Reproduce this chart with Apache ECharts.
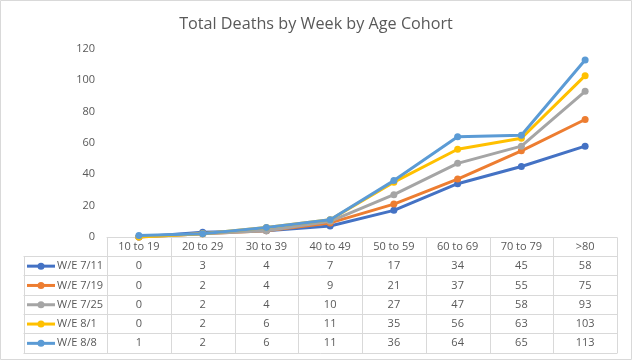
<!DOCTYPE html>
<html><head><meta charset="utf-8">
<script src="https://cdn.jsdelivr.net/npm/echarts@6/dist/echarts.min.js"></script>
<style>html,body{margin:0;padding:0;background:#fff}#c{width:632px;height:360px}</style>
</head><body><div id="c"></div>
<script>
const categories = ['10 to 19','20 to 29','30 to 39','40 to 49','50 to 59','60 to 69','70 to 79','>80'];
const seriesNames = ['W/E 7/11','W/E 7/19','W/E 7/25','W/E 8/1','W/E 8/8'];
const we0711 = [0,3,4,7,17,34,45,58];
const we0719 = [0,2,4,9,21,37,55,75];
const we0725 = [0,2,4,10,27,47,58,93];
const we0801 = [0,2,6,11,35,56,63,103];
const we0808 = [1,2,6,11,36,64,65,113];
const colors = ['#4472C4','#ED7D31','#A5A5A5','#FFC000','#5B9BD5'];
const allData = [we0711, we0719, we0725, we0801, we0808];
const FONT = 'Open Sans';
const TXT = '#595959';
const GRID = '#d9d9d9';

const chart = echarts.init(document.getElementById('c'), null, {renderer:'canvas'});
chart.setOption({
  animation:false,
  title:{text:'Total Deaths by Week by Age Cohort', left:'center', top:11,
    textStyle:{fontSize:16.2, fontWeight:'normal', color:TXT, fontFamily:FONT}},
  grid:{left:107, right:15, top:49, bottom:123},
  xAxis:{type:'category', data:categories, boundaryGap:true,
    axisLine:{lineStyle:{color:GRID, width:1}}, axisTick:{show:false}, axisLabel:{show:false}},
  yAxis:{type:'value', min:0, max:120, interval:20,
    axisLine:{show:false}, axisTick:{show:false}, splitLine:{show:false},
    axisLabel:{color:TXT, fontSize:11, fontFamily:FONT, margin:12}},
  series: seriesNames.map((n,i)=>({
    name:n, type:'line', data:allData[i], symbol:'circle', symbolSize:7,
    lineStyle:{width:3, color:colors[i]}, itemStyle:{color:colors[i]}, z:2+i
  }))
});

// Build data table beneath the axis
const centers = categories.map(c => chart.convertToPixel({xAxisIndex:0}, c));
const colW = centers.length > 1 ? centers[1]-centers[0] : 64;
const tableLeft = 23.5;
const firstColRight = centers[0] - colW/2;
const tableRight = centers[centers.length-1] + colW/2;
const axisY = chart.convertToPixel({yAxisIndex:0}, 0);
const rowH = 19.3;
const headerBottom = axisY + 19;
const rowLines = [headerBottom];
for (let i=1;i<=seriesNames.length;i++) rowLines.push(headerBottom + rowH*i);
const tableBottom = rowLines[rowLines.length-1];
const g = [];
const ls = {stroke:GRID, lineWidth:1};
g.push({type:'rect', shape:{x:0.5,y:0.5,width:631,height:359}, style:{fill:null, stroke:GRID, lineWidth:1}, silent:true});
rowLines.forEach(y=>{
  g.push({type:'line', shape:{x1:tableLeft, y1:Math.round(y)+0.5, x2:tableRight, y2:Math.round(y)+0.5}, style:ls, silent:true});
});
g.push({type:'line', shape:{x1:Math.round(tableLeft)+0.5, y1:Math.round(headerBottom)+0.5, x2:Math.round(tableLeft)+0.5, y2:Math.round(tableBottom)+0.5}, style:ls, silent:true});
for (let i=0;i<=categories.length;i++){
  const x = Math.round(firstColRight + colW*i)+0.5;
  g.push({type:'line', shape:{x1:x, y1:Math.round(axisY)+0.5, x2:x, y2:Math.round(tableBottom)+0.5}, style:ls, silent:true});
}
categories.forEach((c,i)=>{
  g.push({type:'text', x:centers[i], y:(axisY+headerBottom)/2+0.5,
    style:{text:c, fill:TXT, font:'11px "'+FONT+'"', align:'center', verticalAlign:'middle'}, silent:true});
});
seriesNames.forEach((n,r)=>{
  const cy = (rowLines[r]+rowLines[r+1])/2 + 0.5;
  g.push({type:'line', shape:{x1:27, y1:cy, x2:55, y2:cy}, style:{stroke:colors[r], lineWidth:3}, silent:true});
  g.push({type:'circle', shape:{cx:41, cy:cy, r:3.5}, style:{fill:colors[r]}, silent:true});
  g.push({type:'text', x:57, y:cy, style:{text:n, fill:TXT, font:'11px "'+FONT+'"', align:'left', verticalAlign:'middle'}, silent:true});
  allData[r].forEach((v,i)=>{
    g.push({type:'text', x:centers[i], y:cy, style:{text:String(v), fill:TXT, font:'11px "'+FONT+'"', align:'center', verticalAlign:'middle'}, silent:true});
  });
});
chart.setOption({graphic:g});
</script></body></html>
